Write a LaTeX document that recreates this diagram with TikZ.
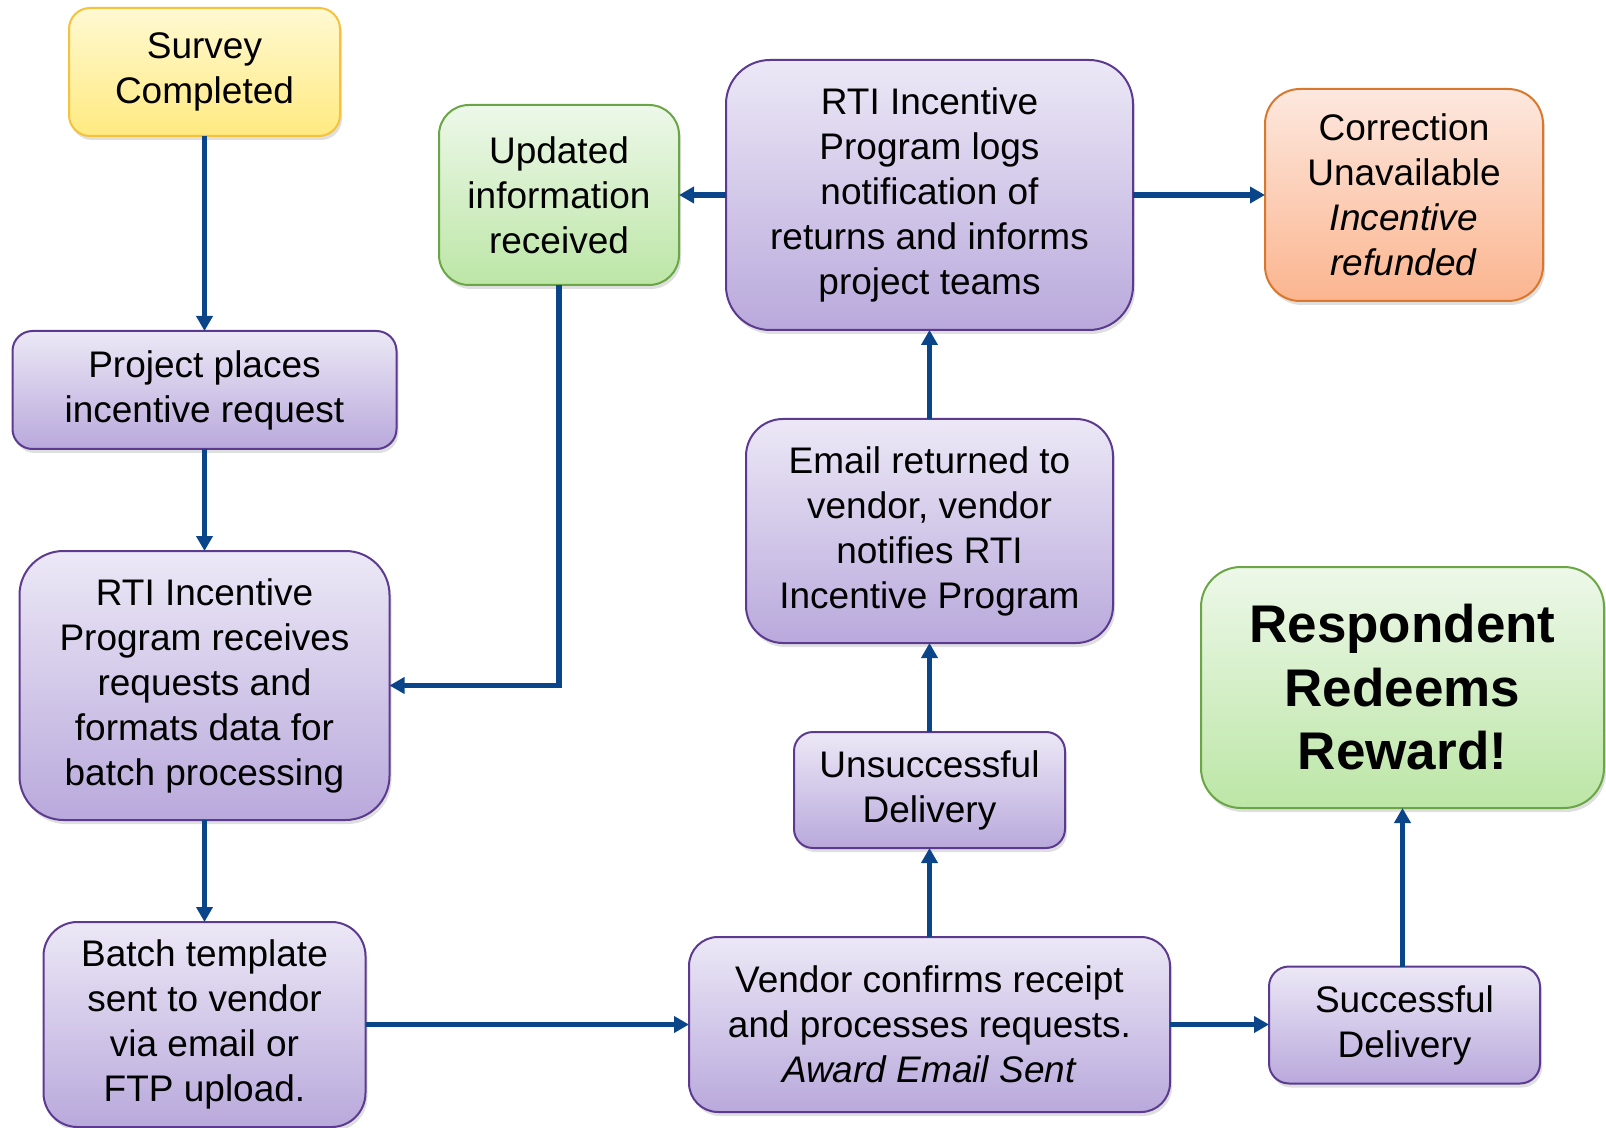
\documentclass[tikz,border=0pt]{standalone}
\usepackage{fontspec}
\setmainfont{Liberation Sans}
\usetikzlibrary{arrows.meta,shadows}
\definecolor{purpleline}{HTML}{5B3A8F}
\definecolor{purpletop}{HTML}{ECE8F6}
\definecolor{purplebot}{HTML}{B9A9DC}
\definecolor{yellowline}{HTML}{F4C23C}
\definecolor{yellowtop}{HTML}{FFF9D2}
\definecolor{yellowbot}{HTML}{FFEA80}
\definecolor{greenline}{HTML}{6AA546}
\definecolor{greentop}{HTML}{EDF8E9}
\definecolor{greenbot}{HTML}{BCE6A6}
\definecolor{orangeline}{HTML}{D9782C}
\definecolor{orangetop}{HTML}{FDE8DF}
\definecolor{orangebot}{HTML}{FBB58F}
\definecolor{flowblue}{HTML}{0A4589}
\begin{document}
\begin{tikzpicture}[x=0.5pt,y=-0.5pt,
    card/.style={align=center, font=\fontsize{18.5}{22.5}\selectfont, line width=1pt,
      inner sep=2pt, outer sep=0pt,
      drop shadow={opacity=0.25, shadow xshift=1pt, shadow yshift=-2pt}},
    purplebox/.style={card, draw=purpleline, top color=purpletop, bottom color=purplebot},
    yellowbox/.style={card, draw=yellowline, top color=yellowtop, bottom color=yellowbot},
    greenbox/.style={card, draw=greenline, top color=greentop, bottom color=greenbot},
    orangebox/.style={card, draw=orangeline, top color=orangetop, bottom color=orangebot},
    flow/.style={draw=flowblue, line width=2.6pt, -{Triangle[length=7.5pt,width=8pt]}}]
  \useasboundingbox (0,0) rectangle (1606,1128);
  % left column
  \node[yellowbox, minimum width=135.5pt, minimum height=64pt, rounded corners=10.5pt] (survey) at (204.5,72) {Survey\\Completed};
  \node[purplebox, minimum width=192pt, minimum height=59pt, rounded corners=10pt] (place) at (204.5,390) {Project places\\incentive request};
  \node[purplebox, minimum width=185pt, minimum height=134.5pt, rounded corners=22pt] (receive) at (204.5,685.5) {RTI Incentive\\Program receives\\requests and\\formats data for\\batch processing};
  \node[purplebox, minimum width=161pt, minimum height=102.5pt, rounded corners=17pt] (batch) at (204.5,1024.5) {Batch template\\sent to vendor\\via email or\\FTP upload.};
  % middle column
  \node[greenbox, minimum width=120pt, minimum height=90pt, rounded corners=15pt] (updated) at (559,195) {Updated\\information\\received};
  \node[purplebox, minimum width=203.5pt, minimum height=135pt, rounded corners=22pt] (logs) at (929.5,195) {RTI Incentive\\Program logs\\notification of\\returns and informs\\project teams};
  \node[purplebox, minimum width=183.5pt, minimum height=112pt, rounded corners=18.5pt] (email) at (929.5,531) {Email returned to\\vendor, vendor\\notifies RTI\\Incentive Program};
  \node[purplebox, minimum width=135.5pt, minimum height=58pt, rounded corners=9.5pt] (unsucc) at (929.5,790) {Unsuccessful\\Delivery};
  \node[purplebox, minimum width=240.5pt, minimum height=87.5pt, rounded corners=14.5pt] (vendor) at (929.5,1024.5) {Vendor confirms receipt\\and processes requests.\\\textit{Award Email Sent}};
  % right column
  \node[orangebox, minimum width=139pt, minimum height=106pt, rounded corners=17.5pt] (correction) at (1404,195) {Correction\\Unavailable\\\textit{Incentive}\\\textit{refunded}};
  \node[greenbox, minimum width=201.5pt, minimum height=120.5pt, rounded corners=20pt,
    font=\bfseries\fontsize{26.5}{31.75}\selectfont] (reward) at (1402.5,687.5) {Respondent\\Redeems\\Reward!};
  \node[purplebox, minimum width=135.5pt, minimum height=58.5pt, rounded corners=10pt] (succ) at (1404.5,1025) {Successful\\Delivery};
  % connectors
  \draw[flow] (survey) -- (place);
  \draw[flow] (place) -- (receive);
  \draw[flow] (receive) -- (batch);
  \draw[flow] (batch.east) -- (batch.east -| vendor.west);
  \draw[flow] (vendor.east) -- (vendor.east -| succ.west);
  \draw[flow] (succ.north -| reward.south) -- (reward.south);
  \draw[flow] (vendor) -- (unsucc);
  \draw[flow] (unsucc) -- (email);
  \draw[flow] (email) -- (logs);
  \draw[flow] (logs) -- (updated);
  \draw[flow] (logs) -- (correction);
  \draw[flow] (updated.south) |- (receive.east);
\end{tikzpicture}
\end{document}
